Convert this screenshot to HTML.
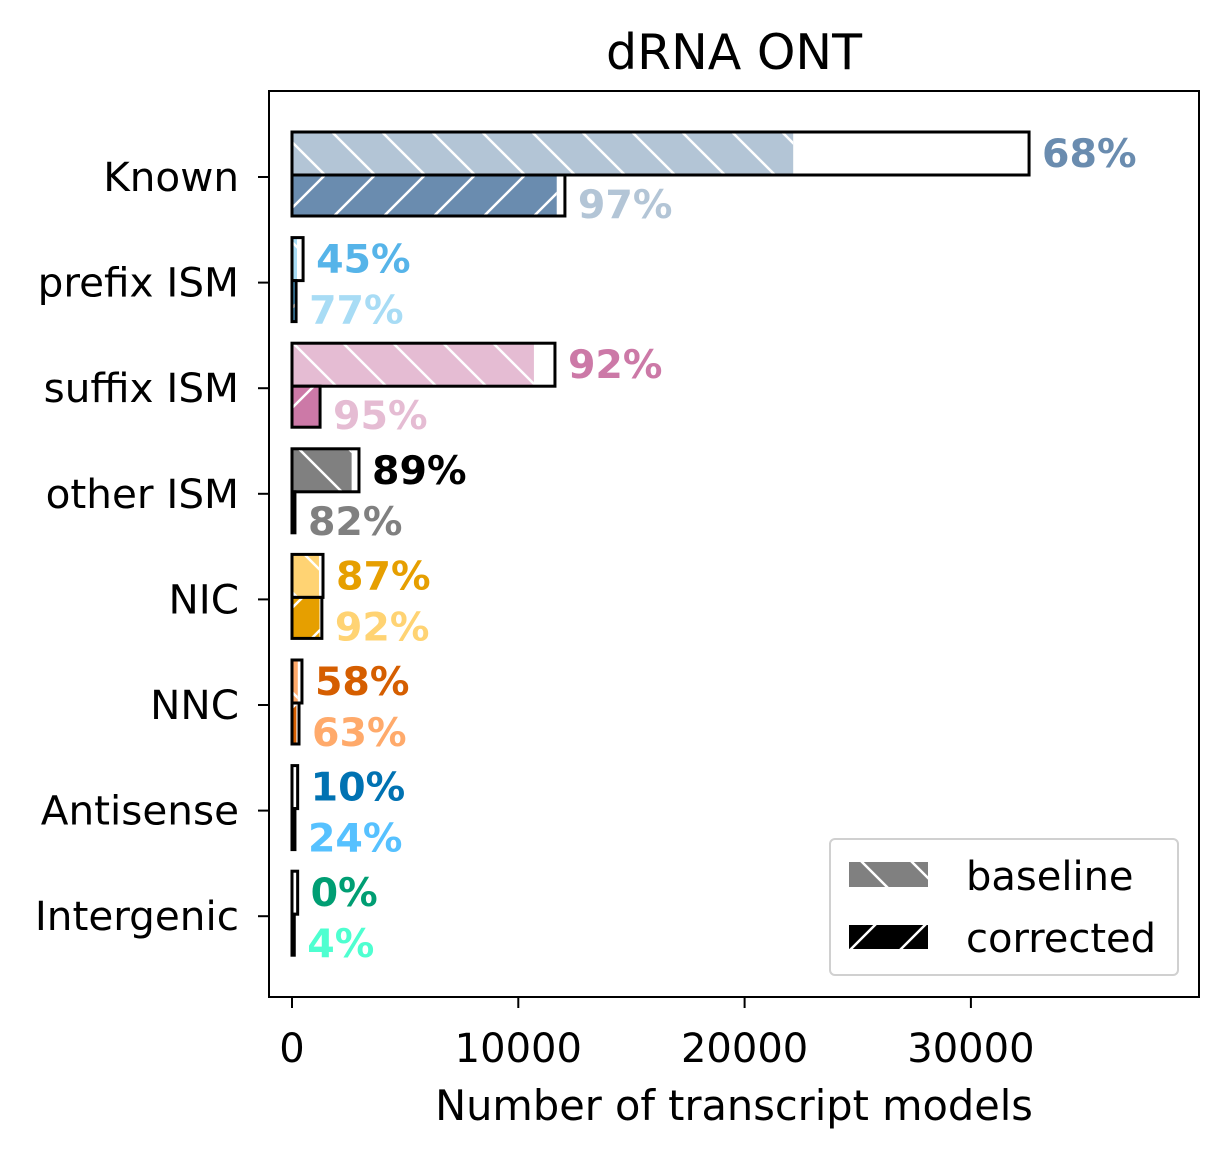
<!DOCTYPE html>
<html><head><meta charset="utf-8"><style>
body{margin:0;background:#fff}
svg{display:block;font-family:"DejaVu Sans","Liberation Sans",sans-serif}
</style></head><body>
<svg id="chart" width="1229" height="1158" viewBox="0 0 1229 1158">
<defs>
<pattern id="hb" patternUnits="userSpaceOnUse" width="50" height="50"><path d="M-5,-5 L55,55 M-5,45 L5,55 M45,-5 L55,5" stroke="#fff" stroke-width="2.5"/></pattern>
<pattern id="hc" patternUnits="userSpaceOnUse" width="50" height="50"><path d="M-5,55 L55,-5 M-5,5 L5,-5 M45,55 L55,45" stroke="#fff" stroke-width="2.5"/></pattern>
</defs>
<text x="734" y="69" style="font-size:49px" text-anchor="middle">dRNA ONT</text>
<g id="bars"></g>
<rect x="269" y="91" width="930" height="906" fill="none" stroke="#000" stroke-width="2"/>
<g id="axes"></g>
<text x="734" y="1120" style="font-size:41.5px" text-anchor="middle">Number of transcript models</text>
<g>
<rect x="830" y="839" width="348" height="136" rx="5" fill="#fff" stroke="#d0d0d0" stroke-width="2"/>
<rect x="849" y="862" width="79" height="25" fill="#808080"/>
<rect x="849" y="862" width="79" height="25" fill="url(#hb)"/>
<text x="966" y="890" style="font-size:40px">baseline</text>
<rect x="849" y="925" width="79" height="24" fill="#000"/>
<rect x="849" y="925" width="79" height="24" fill="url(#hc)"/>
<text x="966" y="952" style="font-size:40px">corrected</text>
</g>
</svg>
<script>
const categories=["Known","prefix ISM","suffix ISM","other ISM","NIC","NNC","Antisense","Intergenic"];
const baselineTotal=[32570,490,11620,2960,1370,440,250,250];
const baselinePct=[68,45,92,89,87,58,10,0];
const correctedTotal=[12060,180,1240,130,1320,310,130,100];
const correctedPct=[97,77,95,82,92,63,24,4];
const darkColors=["#6a8caf","#56b4e9","#cc79a7","#000000","#e69f00","#d55e00","#0072b2","#009e73"];
const lightColors=["#b3c5d6","#a8dcf5","#e5bcd3","#808080","#ffd373","#ffaa6b","#56c1ff","#4effd0"];
const xTicks=[0,10000,20000,30000];
const NS="http://www.w3.org/2000/svg";
const x0=292, pxPer=22.63/1000;
function xs(v){return x0+v*pxPer;}
function yc(i){return 175+i*105.6;}
function mk(tag,attrs,parent){const e=document.createElementNS(NS,tag);for(const k in attrs)e.setAttribute(k,attrs[k]);parent.appendChild(e);return e;}
const bars=document.getElementById('bars'), axes=document.getElementById('axes');
categories.forEach((c,i)=>{
  const cy=yc(i);
  const rows=[
    {y:cy-43,h:43,ty:cy-8,tot:baselineTotal[i],pct:baselinePct[i],fill:lightColors[i],lab:darkColors[i],pat:'hb',nm:'baseline'},
    {y:cy,h:41,ty:cy+43,tot:correctedTotal[i],pct:correctedPct[i],fill:darkColors[i],lab:lightColors[i],pat:'hc',nm:'corrected'}];
  rows.forEach(r=>{
    const fw=xs(r.tot*r.pct/100)-x0;
    const f=mk('rect',{x:x0,y:r.y,width:Math.max(fw,0),height:r.h,fill:r.fill},bars);
    
    
    mk('rect',{x:x0,y:r.y,width:Math.max(fw,0),height:r.h,fill:'url(#'+r.pat+')'},bars);
    const o=mk('rect',{x:x0,y:r.y,width:xs(r.tot)-x0,height:r.h,fill:'none',stroke:'#000','stroke-width':3},bars);
    
    
    const t=mk('text',{x:xs(r.tot)+13,y:r.ty,style:'font-size:39.5px;font-weight:bold',fill:r.lab},bars);
    t.textContent=r.pct+'%';
    
    
  });
  mk('line',{x1:258,x2:269,y1:cy+2,y2:cy+2,stroke:'#000','stroke-width':2},axes);
  const l=mk('text',{x:239,y:cy+16,style:'font-size:40.5px','text-anchor':'end'},axes);
  l.textContent=c;
  
  
});
xTicks.forEach(v=>{
  const x=xs(v);
  mk('line',{x1:x,x2:x,y1:997,y2:1008,stroke:'#000','stroke-width':2},axes);
  const t=mk('text',{x:x,y:1062,style:'font-size:40px','text-anchor':'middle'},axes);
  t.textContent=v;
  
  
});
</script>
</body></html>
